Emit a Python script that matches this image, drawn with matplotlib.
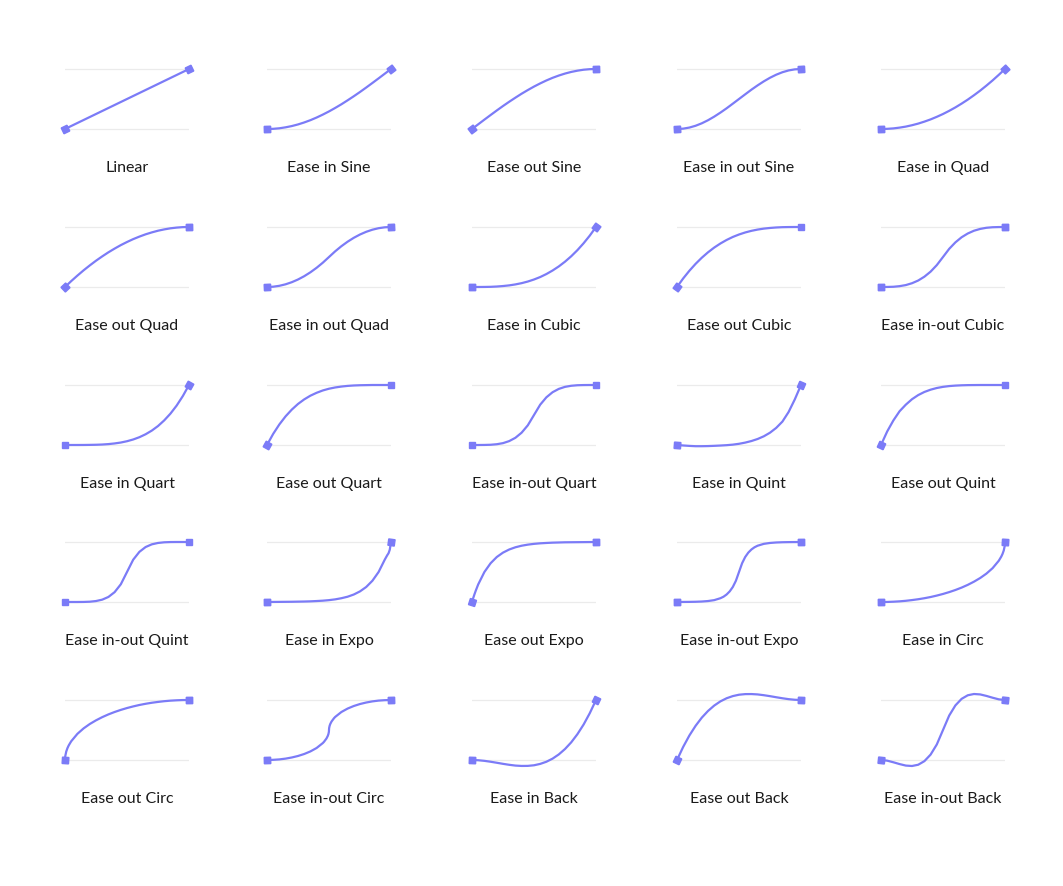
import math

import matplotlib
matplotlib.use("Agg")
import matplotlib.pyplot as plt


# sample positions along the x axis (progress 0..1)
T = [0.0, 0.05, 0.1, 0.15, 0.2, 0.25, 0.3, 0.35, 0.4, 0.45, 0.5,
     0.55, 0.6, 0.65, 0.7, 0.75, 0.8, 0.85, 0.9, 0.95, 1.0]
# denser positions for the curves with very steep parts
T_START = [0.0, 0.002, 0.01, 0.02, 0.03, 0.05, 0.1, 0.15, 0.2, 0.25, 0.3, 0.35, 0.4, 0.45, 0.5,
           0.55, 0.6, 0.65, 0.7, 0.75, 0.8, 0.85, 0.9, 0.95, 1.0]
T_END = [0.0, 0.05, 0.1, 0.15, 0.2, 0.25, 0.3, 0.35, 0.4, 0.45, 0.5,
         0.55, 0.6, 0.65, 0.7, 0.75, 0.8, 0.85, 0.9, 0.95, 0.97, 0.98, 0.99, 0.998, 1.0]
T_MID = [0.0, 0.05, 0.1, 0.15, 0.2, 0.25, 0.3, 0.35, 0.375, 0.4, 0.425, 0.45, 0.475, 0.5,
         0.525, 0.55, 0.575, 0.6, 0.625, 0.65, 0.7, 0.75, 0.8, 0.85, 0.9, 0.95, 1.0]
T_MID_CIRC = [0.0, 0.05, 0.1, 0.15, 0.2, 0.25, 0.3, 0.35, 0.4, 0.45, 0.46, 0.48, 0.49, 0.495, 0.499, 0.5,
              0.501, 0.505, 0.51, 0.52, 0.54, 0.55, 0.6, 0.65, 0.7, 0.75, 0.8, 0.85, 0.9, 0.95, 1.0]

LINEAR = [0, .05, .1, .15, .2, .25, .3, .35, .4, .45, .5, .55, .6, .65, .7, .75, .8, .85, .9, .95, 1]
IN_SINE = [0, .003, .012, .028, .049, .076, .109, .147, .191, .240, .293, .351, .412, .478, .546, .617, .691, .767, .844, .922, 1]
OUT_SINE = [0, .078, .156, .233, .309, .383, .454, .522, .588, .649, .707, .760, .809, .853, .891, .924, .951, .972, .988, .997, 1]
IN_OUT_SINE = [0, .006, .024, .054, .095, .146, .206, .273, .345, .422, .5, .578, .655, .727, .794, .854, .905, .946, .976, .994, 1]
IN_QUAD = [0, .003, .01, .023, .04, .063, .09, .123, .16, .203, .25, .303, .36, .423, .49, .563, .64, .723, .81, .903, 1]
OUT_QUAD = [0, .098, .19, .278, .36, .438, .51, .578, .64, .698, .75, .798, .84, .878, .91, .938, .96, .978, .99, .998, 1]
IN_OUT_QUAD = [0, .005, .02, .045, .08, .125, .18, .245, .32, .405, .5, .595, .68, .755, .82, .875, .92, .955, .98, .995, 1]
IN_CUBIC = [0, .0001, .001, .003, .008, .016, .027, .043, .064, .091, .125, .166, .216, .275, .343, .422, .512, .614, .729, .857, 1]
OUT_CUBIC = [0, .143, .271, .386, .488, .578, .657, .725, .784, .834, .875, .909, .936, .957, .973, .984, .992, .997, .999, 1, 1]
IN_OUT_CUBIC = [0, .001, .004, .014, .032, .063, .108, .172, .256, .365, .5, .636, .744, .829, .892, .938, .968, .987, .996, .999, 1]
IN_QUART = [0, 0, .0001, .0005, .002, .004, .008, .015, .026, .041, .063, .092, .13, .179, .24, .316, .41, .522, .656, .815, 1]
OUT_QUART = [0, .186, .344, .478, .590, .684, .760, .822, .870, .909, .938, .959, .974, .985, .992, .996, .998, 1, 1, 1, 1]
IN_OUT_QUART = [0, 0, .001, .004, .013, .031, .065, .12, .205, .328, .5, .672, .795, .88, .935, .969, .987, .996, .999, 1, 1]
IN_QUINT = [0, -.008, -.015, -.02, -.02, -.018, -.014, -.009, -.003, .006, .02, .04, .066, .1, .145, .205, .285, .39, .55, .76, 1]
OUT_QUINT = [0, .226, .410, .563, .672, .763, .832, .884, .922, .950, .969, .982, .990, .995, .998, .999, 1, 1, 1, 1, 1]
IN_OUT_QUINT = [0, 0, 0, .001, .005, .016, .039, .084, .164, .295, .5, .705, .836, .916, .961, .984, .995, .999, 1, 1, 1]
IN_EXPO = [0, .001, .002, .003, .004, .006, .008, .011, .016, .022, .031, .044, .063, .088, .125, .177, .25, .354, .5, .707, .781, .812, .871, .97, 1]
OUT_EXPO = [0, .013, .067, .129, .187, .293, .5, .646, .75, .823, .875, .912, .938, .956, .969, .978, .984, .989, .992, .995, .996, .997, .998, .999, 1]
IN_OUT_EXPO = [0, .001, .002, .004, .008, .016, .031, .063, .088, .125, .177, .25, .354, .5,
               .646, .75, .823, .875, .912, .938, .969, .984, .992, .996, .998, .999, 1]
IN_CIRC = [0, .001, .005, .011, .020, .032, .046, .063, .083, .107, .134, .165, .2, .240, .286, .339, .4, .473, .564, .688, .757, .801, .859, .937, 1]
OUT_CIRC = [0, .063, .141, .199, .243, .312, .436, .527, .6, .661, .714, .760, .8, .835, .866, .893, .917, .937, .954, .968, .980, .989, .995, .999, 1]
IN_OUT_CIRC = [0, .003, .010, .023, .042, .067, .1, .143, .2, .282, .304, .36, .401, .43, .468, .5,
               .532, .57, .599, .64, .696, .718, .8, .857, .9, .933, .958, .977, .990, .997, 1]
IN_BACK = [0, -.004, -.014, -.029, -.046, -.064, -.080, -.093, -.099, -.098, -.088, -.065, -.029, .023, .093, .183, .294, .430, .591, .781, 1]
OUT_BACK = [0, .219, .409, .570, .706, .817, .907, .977, 1.029, 1.065, 1.088, 1.098, 1.099, 1.093, 1.080, 1.064, 1.046, 1.029, 1.014, 1.004, 1]
IN_OUT_BACK = [0, -.011, -.038, -.068, -.093, -.100, -.079, -.019, .090, .259, .5, .741, .910, 1.019, 1.079, 1.1, 1.093, 1.068, 1.038, 1.011, 1]

LABELS = [
    "Linear", "Ease in Sine", "Ease out Sine", "Ease in out Sine", "Ease in Quad",
    "Ease out Quad", "Ease in out Quad", "Ease in Cubic", "Ease out Cubic", "Ease in-out Cubic",
    "Ease in Quart", "Ease out Quart", "Ease in-out Quart", "Ease in Quint", "Ease out Quint",
    "Ease in-out Quint", "Ease in Expo", "Ease out Expo", "Ease in-out Expo", "Ease in Circ",
    "Ease out Circ", "Ease in-out Circ", "Ease in Back", "Ease out Back", "Ease in-out Back",
]
SERIES = [
    LINEAR, IN_SINE, OUT_SINE, IN_OUT_SINE, IN_QUAD,
    OUT_QUAD, IN_OUT_QUAD, IN_CUBIC, OUT_CUBIC, IN_OUT_CUBIC,
    IN_QUART, OUT_QUART, IN_OUT_QUART, IN_QUINT, OUT_QUINT,
    IN_OUT_QUINT, IN_EXPO, OUT_EXPO, IN_OUT_EXPO, IN_CIRC,
    OUT_CIRC, IN_OUT_CIRC, IN_BACK, OUT_BACK, IN_OUT_BACK,
]
SERIES_T = [
    T, T, T, T, T,
    T, T, T, T, T,
    T, T, T, T, T,
    T, T_END, T_START, T_MID, T_END,
    T_START, T_MID_CIRC, T, T, T,
]

LINE_COLOR = "#7b7bf7"
GRID_COLOR = "#ebebeb"
TEXT_COLOR = "#1a1a1a"

FIG_W, FIG_H = 1063, 886
COL_LEFT = [65, 267, 472, 677, 881]   # px, left end of each panel
ROW_TOP = [69, 227, 385, 542, 700]    # px, y of value 1
PANEL_W = 124
UNIT_H = 60
LABEL_GAP = 39


def _marker_angle(x0, y0, x1, y1):
    # direction of the segment in pixel space -> square rotated along it
    ang = math.degrees(math.atan2((y1 - y0) * UNIT_H, (x1 - x0) * PANEL_W))
    return (4, 0, ang + 45)


def main():
    fig = plt.figure(figsize=(FIG_W / 100, FIG_H / 100), dpi=100)
    fig.patch.set_facecolor("white")

    y_lo, y_hi = -0.6, 1.6
    for i, (label, xs, values) in enumerate(zip(LABELS, SERIES_T, SERIES)):
        r, c = divmod(i, 5)
        left = COL_LEFT[c]
        base = ROW_TOP[r] + UNIT_H  # px of value 0 from top
        ax_bottom_px = FIG_H - base - (0 - y_lo) * UNIT_H
        ax = fig.add_axes([
            left / FIG_W,
            ax_bottom_px / FIG_H,
            PANEL_W / FIG_W,
            (y_hi - y_lo) * UNIT_H / FIG_H,
        ])
        ax.set_xlim(0, 1)
        ax.set_ylim(y_lo, y_hi)
        ax.axis("off")

        for g in (0, 1):
            ax.plot([0, 1], [g, g], color=GRID_COLOR, lw=0.9, zorder=1)

        ax.plot(xs, values, color=LINE_COLOR, lw=1.6, zorder=3,
                solid_joinstyle="round", solid_capstyle="round", clip_on=False)
        # end markers follow the line direction
        k = 5 if len(xs) > len(T) else 1
        ax.plot([xs[0]], [values[0]], linestyle="none", color=LINE_COLOR,
                marker=_marker_angle(xs[0], values[0], xs[1], values[1]),
                markersize=6.5, zorder=4, clip_on=False)
        ax.plot([xs[-1]], [values[-1]], linestyle="none", color=LINE_COLOR,
                marker=_marker_angle(xs[-2], values[-2], xs[-1], values[-1]),
                markersize=6.5, zorder=4, clip_on=False)

        fig.text((left + PANEL_W / 2) / FIG_W, 1 - (base + LABEL_GAP) / FIG_H, label,
                 ha="center", va="center", fontsize=11.5, family="Lato",
                 color=TEXT_COLOR)

    fig.savefig("out.png", dpi=100, facecolor="white")


if __name__ == "__main__":
    main()
